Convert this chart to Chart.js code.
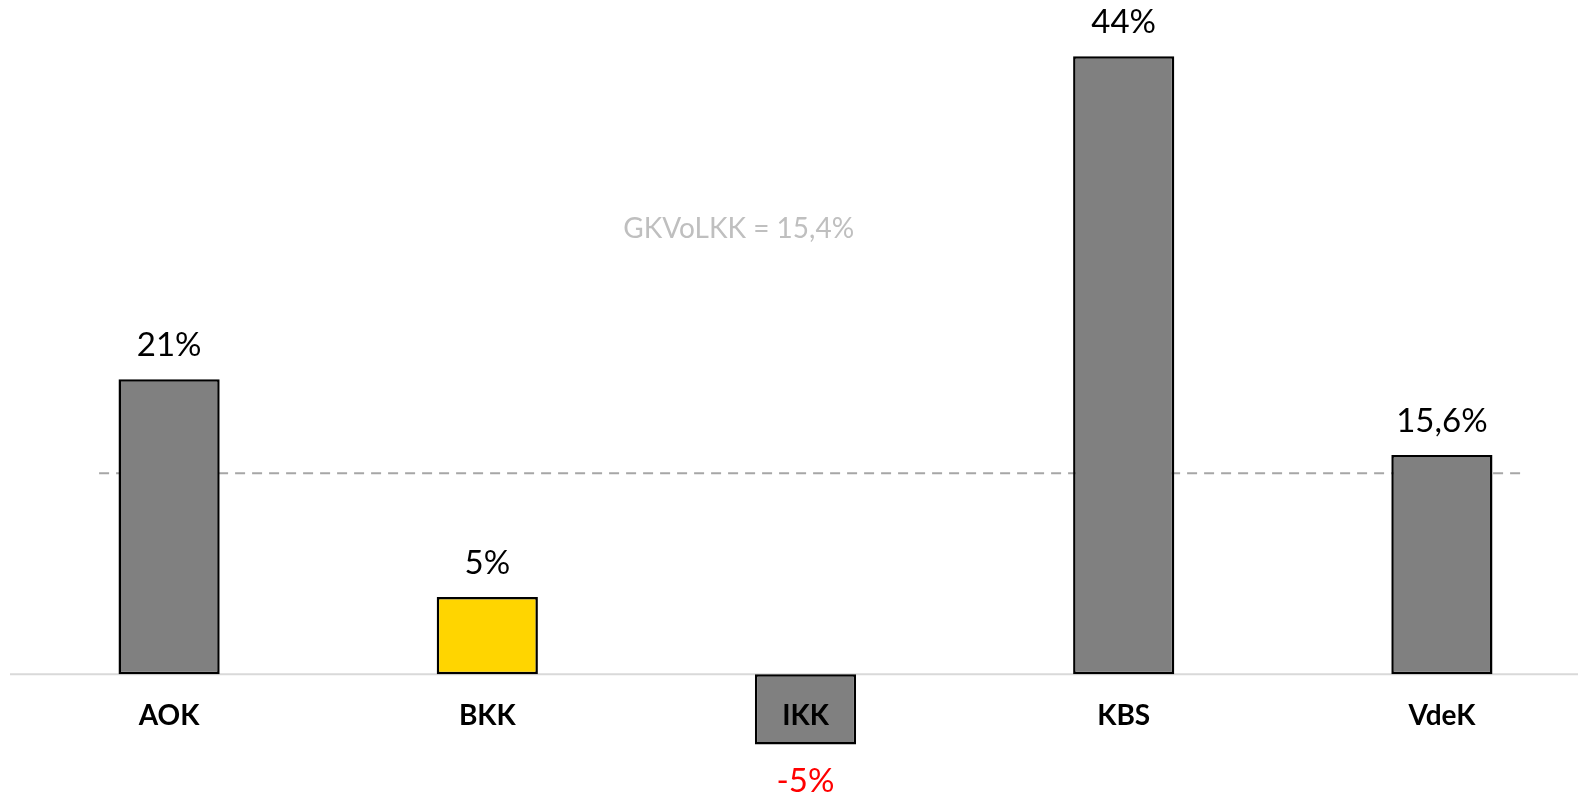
<!DOCTYPE html>
<html>
<head>
<meta charset="utf-8">
<script src="https://cdn.jsdelivr.net/npm/chart.js@4.4.1/dist/chart.umd.min.js"></script>
<style>
  html, body { margin: 0; padding: 0; background: #fff; overflow: hidden; }
  #wrap { position: relative; width: 1601px; height: 795px; }
</style>
</head>
<body>
<div id="wrap"><canvas id="chart"></canvas></div>
<script>
// chart data
const categories = ['AOK', 'BKK', 'IKK', 'KBS', 'VdeK'];
const values = [21, 5.5, -5, 44, 15.6];
const valueLabels = ['21%', '5%', '-5%', '44%', '15,6%'];
const barColors = ['#808080', '#FFD500', '#808080', '#808080', '#808080'];
const averageValue = 14.3;
const averageLabel = 'GKVoLKK = 15,4%';

const FONT = 'Lato, "Liberation Sans", sans-serif';

// draws baseline, average line and all texts
const overlayPlugin = {
    id: 'overlay',
    beforeDatasetsDraw(chart) {
        const ctx = chart.ctx;
        const x = chart.scales.x;
        const y = chart.scales.y;
        const zeroY = y.getPixelForValue(0);
        ctx.save();
        ctx.strokeStyle = '#d9d9d9';
        ctx.lineWidth = 2;
        ctx.beginPath();
        ctx.moveTo(chart.chartArea.left, zeroY);
        ctx.lineTo(chart.width, zeroY);
        ctx.stroke();

        const step = x.getPixelForValue(1) - x.getPixelForValue(0);
        const avgY = y.getPixelForValue(averageValue);
        ctx.strokeStyle = '#a6a6a6';
        ctx.setLineDash([10, 7]);
        ctx.beginPath();
        ctx.moveTo(x.getPixelForValue(0) - 0.22 * step, avgY);
        ctx.lineTo(x.getPixelForValue(4) + 0.26 * step, avgY);
        ctx.stroke();
        ctx.restore();
    },
    afterDatasetsDraw(chart) {
        const ctx = chart.ctx;
        const x = chart.scales.x;
        const y = chart.scales.y;
        const zeroY = y.getPixelForValue(0);
        const meta = chart.getDatasetMeta(0);
        ctx.save();
        ctx.textAlign = 'center';
        ctx.textBaseline = 'middle';

        meta.data.forEach((bar, i) => {
            const v = values[i];
            ctx.font = '33px ' + FONT;
            if (v >= 0) {
                ctx.fillStyle = '#000';
                ctx.fillText(valueLabels[i], bar.x, bar.y - 34);
            } else {
                ctx.fillStyle = '#ff0000';
                ctx.fillText(valueLabels[i], bar.x, bar.y + 37);
            }
            ctx.font = 'bold 28px ' + FONT;
            ctx.fillStyle = '#000';
            ctx.fillText(categories[i], x.getPixelForValue(i), zeroY + 42);
        });

        const step = x.getPixelForValue(1) - x.getPixelForValue(0);
        ctx.font = '28px ' + FONT;
        ctx.fillStyle = '#bfbfbf';
        ctx.fillText(averageLabel, x.getPixelForValue(2) - 0.21 * step, y.getPixelForValue(31.7));
        ctx.restore();
    }
};

new Chart(document.getElementById('chart'), {
    type: 'bar',
    data: {
        labels: categories,
        datasets: [{
            data: values,
            backgroundColor: barColors,
            borderColor: '#000',
            borderWidth: 2.5,
            borderSkipped: false,
            barPercentage: 0.318,
            categoryPercentage: 1
        }]
    },
    options: {
        responsive: true,
        maintainAspectRatio: false,
        animation: false,
        layout: { padding: { left: 10, right: 0, top: 0, bottom: 0 } },
        plugins: {
            legend: { display: false },
            tooltip: { enabled: false }
        },
        scales: {
            x: { display: false, offset: true },
            y: { display: false, min: -8.6, max: 48 }
        }
    },
    plugins: [overlayPlugin]
});
</script>
</body>
</html>
